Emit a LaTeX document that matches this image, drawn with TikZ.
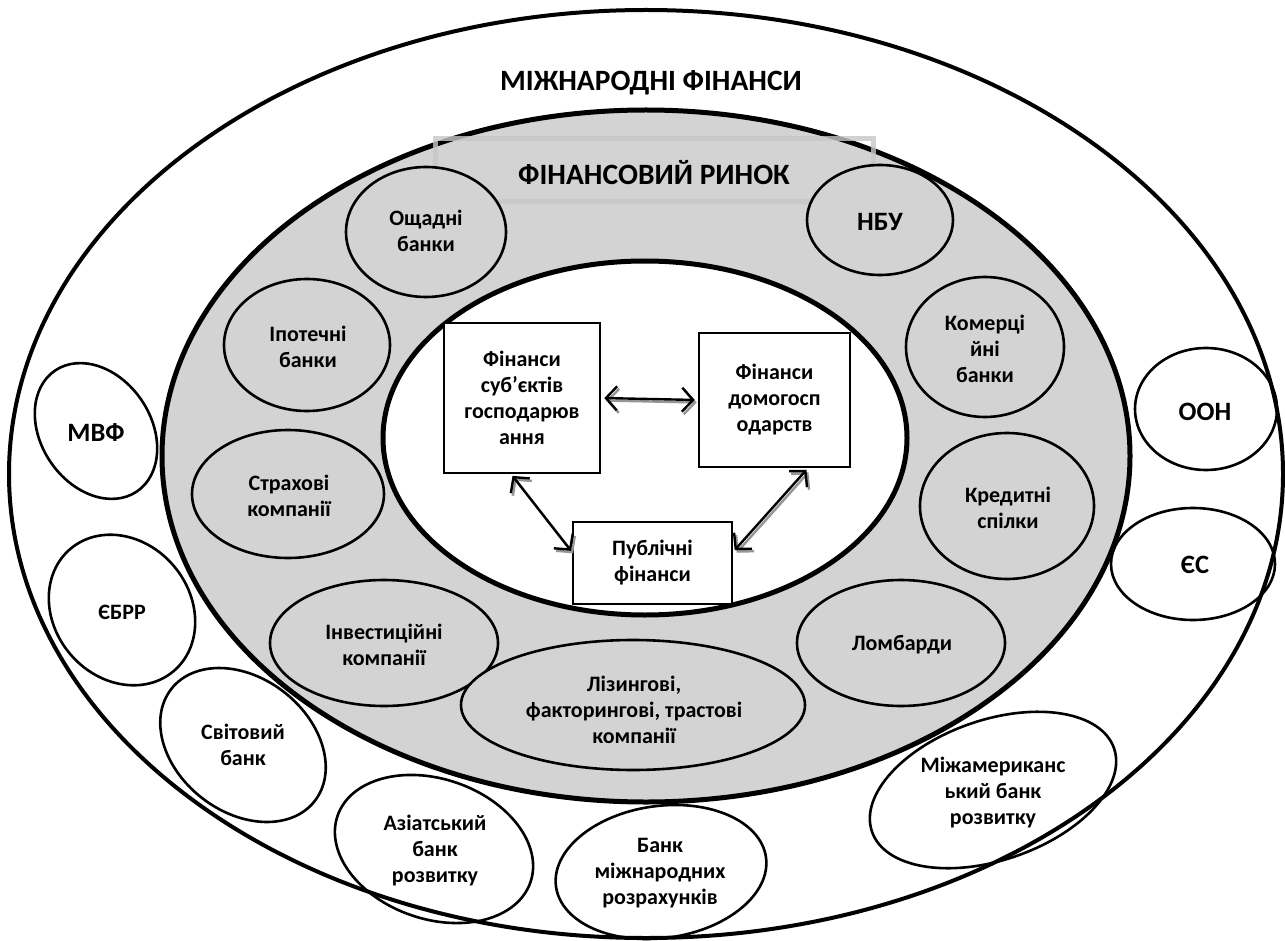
\documentclass[tikz,border=0pt]{standalone}
\usepackage{fontspec}
\setmainfont{Carlito}
\usetikzlibrary{arrows.meta,calc}
\definecolor{ring}{RGB}{211,211,211}
\definecolor{shade}{RGB}{150,150,150}
\tikzset{
  bigline/.style={line width=4pt},
  ringline/.style={line width=5pt},
  smell/.style={line width=2.6pt},
  grayell/.style={smell, fill=ring},
  txt/.style={font=\fontsize{22}{26}\selectfont\bfseries, align=center, inner sep=0pt},
  lbl/.style={font=\fontsize{26.5}{30}\selectfont\bfseries, align=center, inner sep=0pt},
  ttl/.style={font=\fontsize{29.5}{32}\selectfont\bfseries, align=center, inner sep=0pt},
  boxn/.style={draw, line width=2.6pt, fill=white, txt, inner sep=0pt},
  arr/.style={line width=2.4pt, {Straight Barb[length=11pt,width=24pt]}-{Straight Barb[length=11pt,width=24pt]}},
  arrsh/.style={arr, draw=shade},
}
\begin{document}
\begin{tikzpicture}[x=1pt,y=1pt]
\useasboundingbox (0,0) rectangle (1285,-941);
\fill[white] (0,0) rectangle (1285,-941);
% outer ellipse
\draw[bigline] (646,-474) ellipse [x radius=637, y radius=464];
% financial market ring
\draw[ringline, fill=ring] (646,-456) ellipse [x radius=484, y radius=346];
\draw[ringline, fill=white] (645,-438) ellipse [x radius=262, y radius=177];
% title rectangle
\draw[line width=5pt, draw=black!22, opacity=0.8] (435,-139) rectangle (873,-202);
\node[ttl] (fr) at (654,-173) {ФІНАНСОВИЙ РИНОК};
\node[ttl] (mf) at (651,-83) {МІЖНАРОДНІ ФІНАНСИ};
% gray ellipses
\draw[grayell] (426,-232) ellipse [x radius=80, y radius=65];
\draw[grayell] (880,-220) ellipse [x radius=73, y radius=55];
\draw[grayell] (307,-345) ellipse [x radius=83, y radius=66];
\draw[grayell] (985,-347) ellipse [x radius=79, y radius=70];
\draw[grayell] (288,-494) ellipse [x radius=96, y radius=64];
\draw[grayell] (1007,-506) ellipse [x radius=87, y radius=73];
\draw[grayell] (384,-643) ellipse [x radius=114, y radius=63];
\draw[grayell] (901,-643) ellipse [x radius=104, y radius=63];
\draw[grayell] (633,-705) ellipse [x radius=172, y radius=65];
\node[txt] (osh) at (426,-231) {Ощадні\\банки};
\node[lbl] (nbu) at (880,-222) {НБУ};
\node[txt] (ipo) at (308,-347) {Іпотечні\\банки};
\node[txt] (kom) at (985,-349) {Комерці\\йні\\банки};
\node[txt] (str) at (289,-496) {Страхові\\компанії};
\node[txt] (kred) at (1008,-508) {Кредитні\\спілки};
\node[txt] (inv) at (384,-645) {Інвестиційні\\компанії};
\node[txt] (lomb) at (902,-645) {Ломбарди};
\node[txt] (liz) at (634,-710) {Лізингові,\\факторингові, трастові\\компанії};
% outer small ellipses
\draw[smell] (96,-431) ellipse [x radius=55, y radius=73, rotate=34];
\draw[smell] (122,-610) ellipse [x radius=68, y radius=80, rotate=40];
\draw[smell] (243,-745) ellipse [x radius=91, y radius=67, rotate=-38];
\draw[smell] (434,-849) ellipse [x radius=102, y radius=70, rotate=-19];
\draw[smell] (661,-872) ellipse [x radius=106, y radius=66, rotate=8];
\draw[smell] (993,-790) ellipse [x radius=128, y radius=70, rotate=19];
\draw[smell] (1206,-409) ellipse [x radius=71, y radius=61];
\draw[smell] (1193,-564) ellipse [x radius=82, y radius=56];
\node[lbl] (mvf) at (96,-433) {МВФ};
\node[txt] (ebrr) at (122,-612) {ЄБРР};
\node[txt] (svit) at (243,-745) {Світовий\\банк};
\node[txt] (azia) at (435,-851) {Азіатський\\банк\\розвитку};
\node[txt] (bis) at (660,-873) {Банк\\міжнародних\\розрахунків};
\node[txt] (iadb) at (993,-793) {Міжамериканс\\ький банк\\розвитку};
\node[lbl] (oon) at (1205,-412) {ООН};
\node[lbl] (es) at (1195,-565) {ЄС};
% boxes
\node[boxn, minimum width=156pt, minimum height=150pt] (b1) at (522,-398) {Фінанси\\суб’єктів\\господарюв\\ання};
\node[boxn, minimum width=151pt, minimum height=134pt] (b2) at (774.5,-400) {Фінанси\\домогосп\\одарств};
\node[boxn, minimum width=159pt, minimum height=82pt] (b3) at (652.5,-563) {Публічні\\фінанси};
% arrows
\draw[arrsh, transform canvas={shift={(2pt,-2.5pt)}}, shorten <=3pt, shorten >=3pt] (b1.east) -- (b2.west);
\draw[arr, shorten <=3pt, shorten >=3pt] (b1.east) -- (b2.west);
\draw[arrsh, transform canvas={shift={(2pt,-2.5pt)}}, shorten <=2pt, shorten >=1pt] (b1.262) -- (b3.172);
\draw[arr, shorten <=2pt, shorten >=1pt] (b1.262) -- (b3.172);
\draw[arrsh, transform canvas={shift={(2pt,-2.5pt)}}, shorten <=2pt, shorten >=2pt] (b2.296) -- (b3.8);
\draw[arr, shorten <=2pt, shorten >=2pt] (b2.296) -- (b3.8);
\end{tikzpicture}
\end{document}
